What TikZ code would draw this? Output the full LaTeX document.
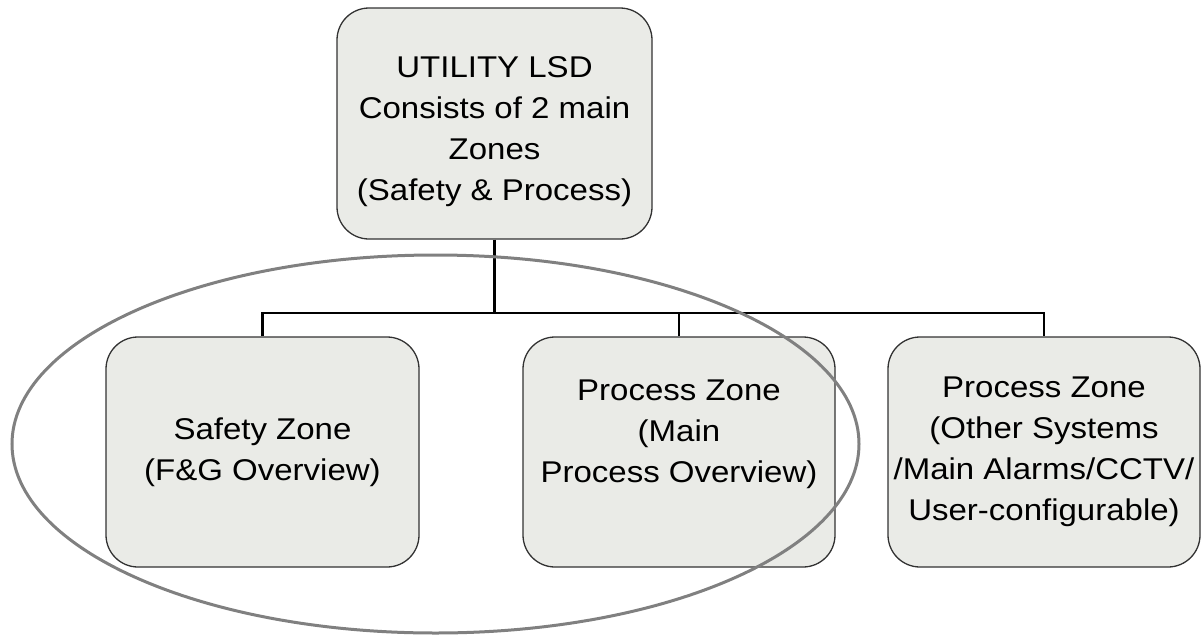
\documentclass[tikz,border=0pt]{standalone}
\usepackage{fontspec}
\setmainfont{Liberation Sans}[FakeStretch=1.1]
\definecolor{boxfill}{RGB}{234,235,231}
\definecolor{boxline}{RGB}{50,50,50}
\definecolor{ringgray}{RGB}{128,128,128}
\begin{document}
\begin{tikzpicture}[x=1pt,y=-1pt,
  zonebox/.style={draw=boxline, line width=1.3pt, fill=boxfill,
    rounded corners=32pt, align=center, inner sep=0pt,
    minimum width=313pt, minimum height=230pt,
    font=\fontsize{30}{41}\selectfont},
  link/.style={line width=2.7pt, draw=black},
  zonering/.style={draw=ringgray, line width=3pt}]
\useasboundingbox (0,0) rectangle (1202,635);

% top-level box (strut on the first line lowers the text block a little)
\node[zonebox, minimum width=315pt, minimum height=231pt] (lsd) at (494.5,123.5)
  {\rule{0pt}{37pt}UTILITY LSD\\Consists of 2 main\\Zones\\(Safety \& Process)};

% zone boxes
\node[zonebox] (safety) at (262.5,452)
  {Safety Zone\\(F\&G Overview)};
\node[zonebox, minimum width=312pt] (mainproc) at (679,452)
  {Process Zone\\(Main\\Process Overview)\\\mbox{}};
\node[zonebox, minimum width=312pt] (otherproc) at (1044,452)
  {Process Zone\\(Other Systems\\/Main Alarms/CCTV/\\User-configurable)};

% tree connectors
\coordinate (bus) at (495,313);
\draw[link] (lsd.south) -- (lsd.south |- bus);
\draw[link] (safety.north) -- (safety.north |- bus) -- (otherproc.north |- bus) -- (otherproc.north);
\draw[link] (mainproc.north) -- (mainproc.north |- bus);

% ring grouping the two main zones
\draw[zonering] (435.5,444) ellipse [x radius=423.5, y radius=189];
\end{tikzpicture}
\end{document}
